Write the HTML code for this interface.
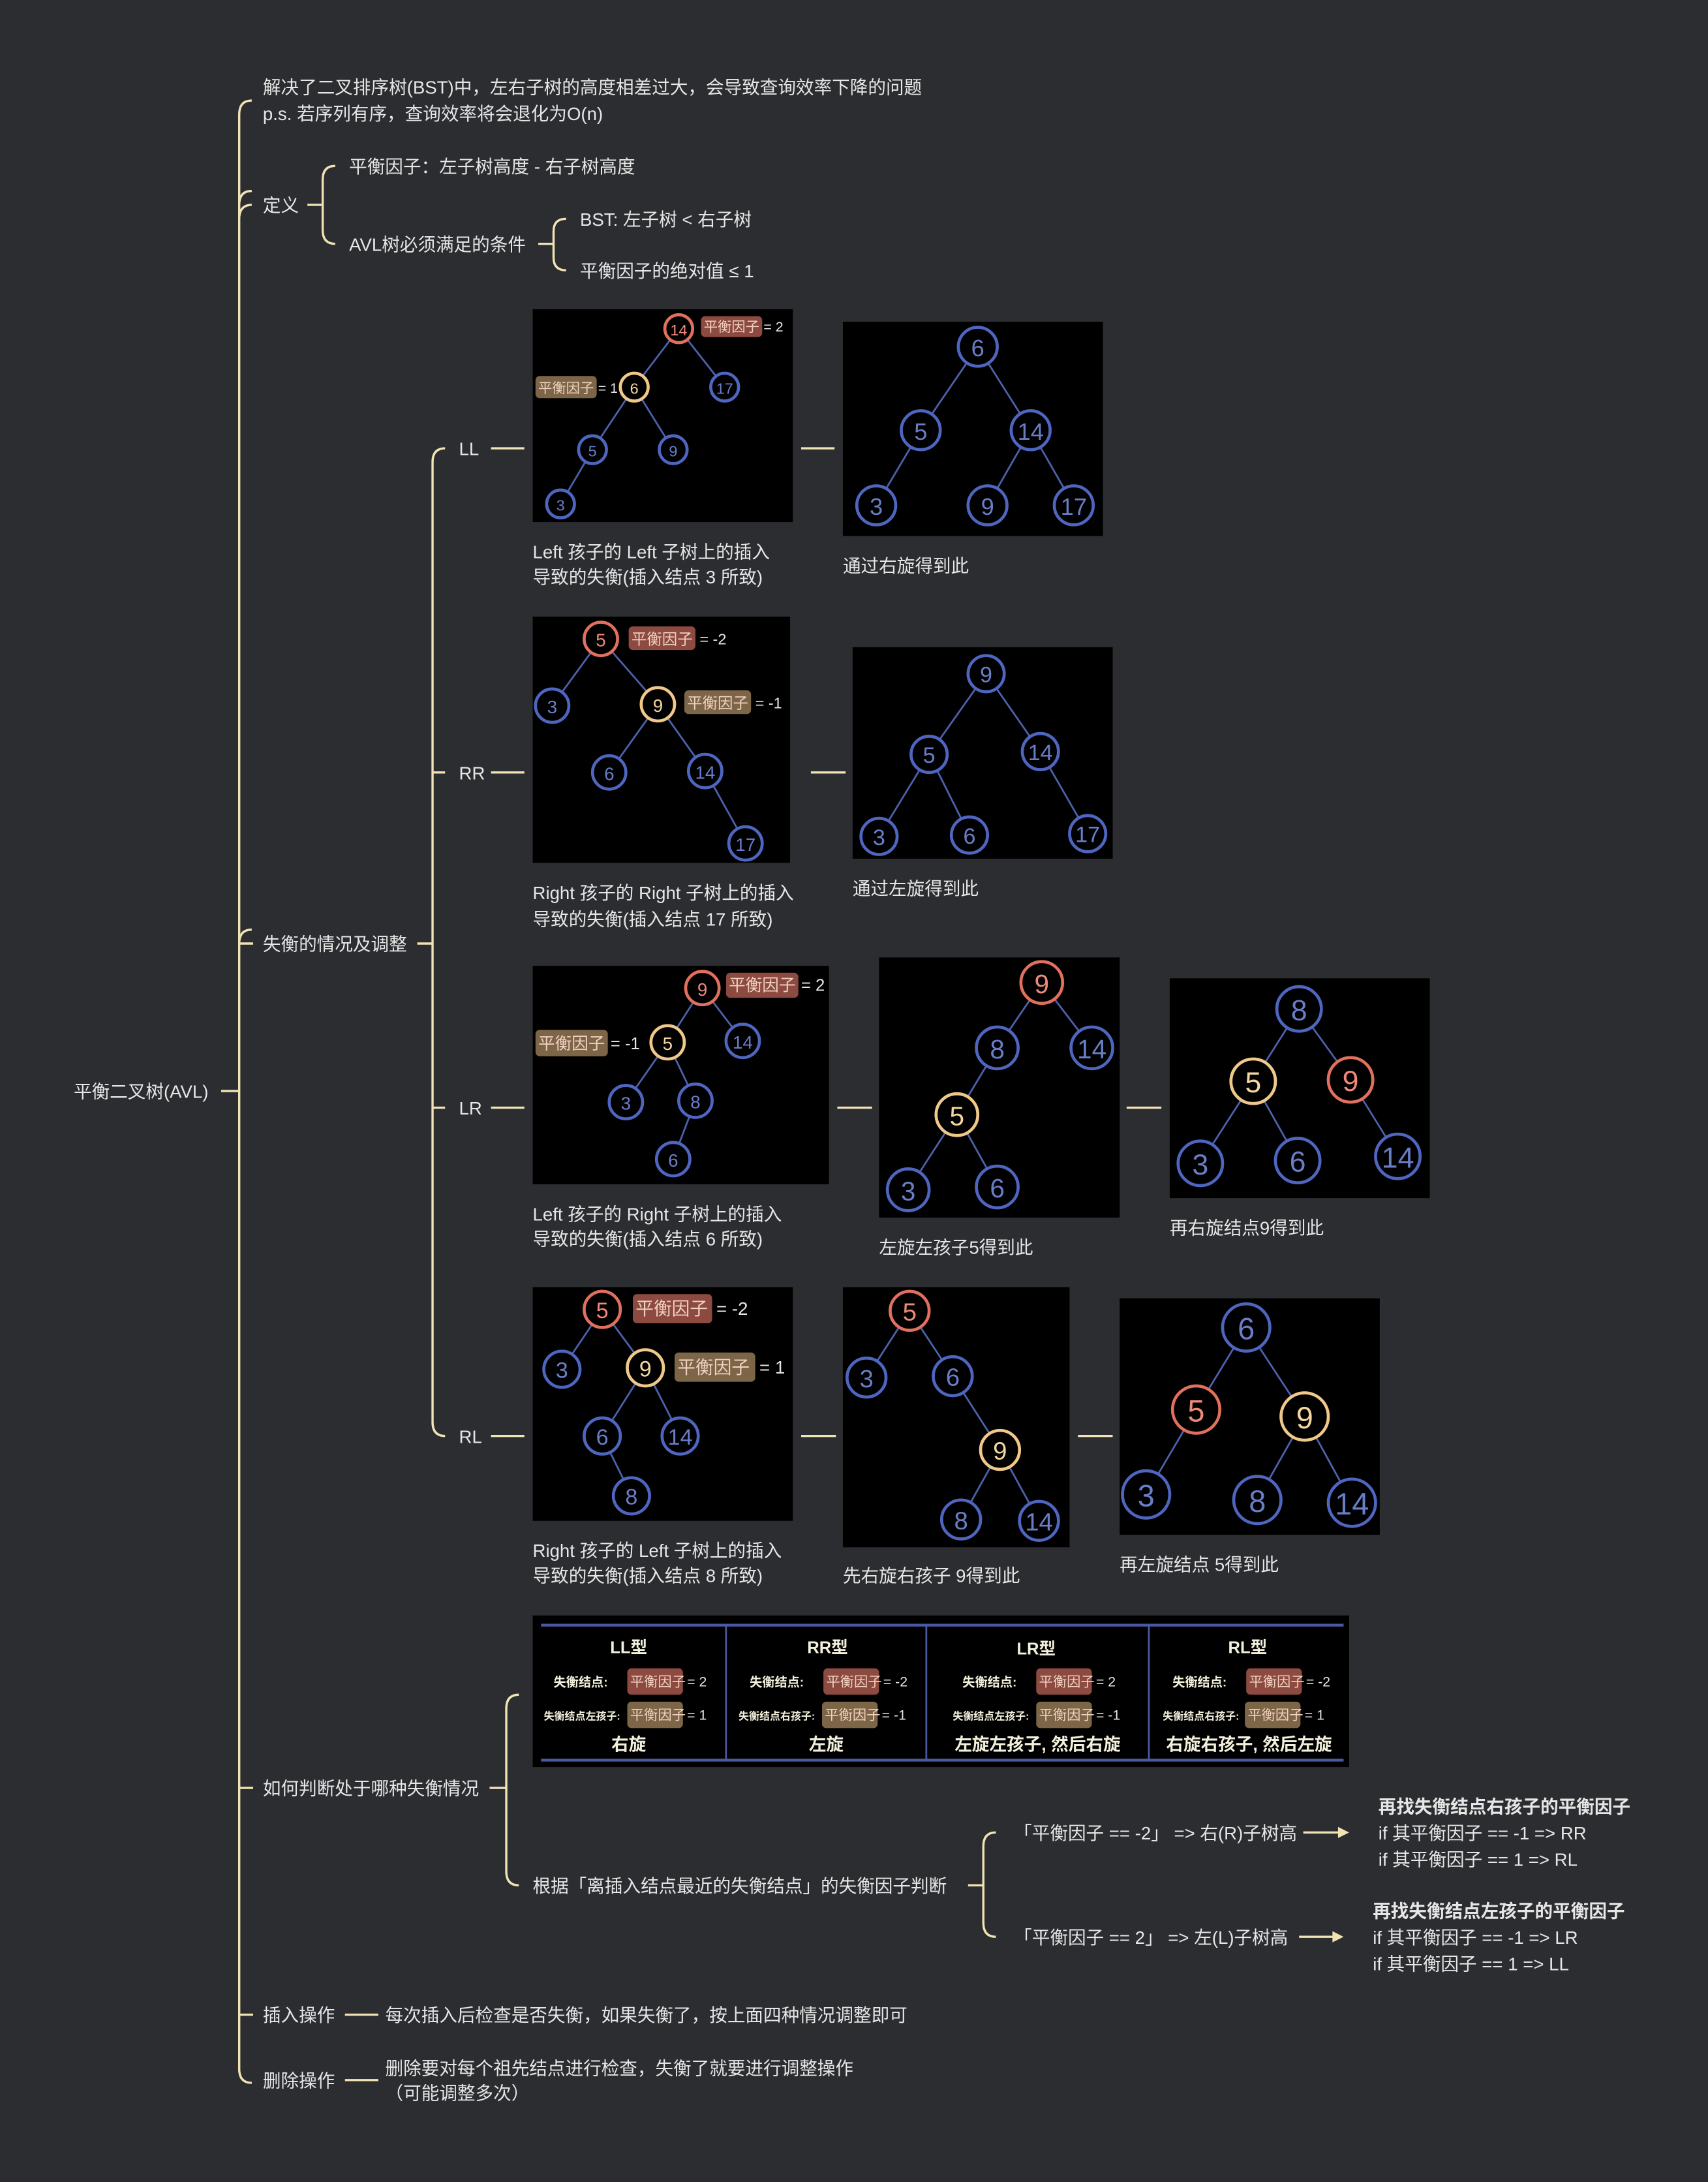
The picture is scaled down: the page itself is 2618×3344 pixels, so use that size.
<!DOCTYPE html>
<html><head><meta charset="utf-8"><style>
html,body{margin:0;padding:0;background:#2c2d30;}
svg{display:block}
text{font-family:"Liberation Sans","Noto Sans CJK SC",sans-serif;}
.t{fill:#e6e6e6;font-size:12.95px;}
.ln{stroke:#f0e3b4;stroke-width:1.6;fill:none;}
.img{fill:#000;}
.e{stroke:#4d62ad;stroke-width:1.3;}
.b{fill:#000;stroke:#4f66c0;stroke-width:2.2;}
.r{fill:#000;stroke:#e2705e;stroke-width:2.2;}
.o{fill:#000;stroke:#f0c88a;stroke-width:2.2;}
.nb{fill:#6a7ec8;text-anchor:middle;dominant-baseline:central;}
.nr{fill:#ee8a78;text-anchor:middle;dominant-baseline:central;}
.no{fill:#f4d6a0;text-anchor:middle;dominant-baseline:central;}
.lr{fill:#8c4a40;}
.lo{fill:#7d6548;}
.lt{fill:#f0d0c0;}
.eq{fill:#e6e6e6;}
.tw{fill:#f2f0dc;font-weight:bold;text-anchor:middle;}
</style></head><body>
<svg width="2618" height="3344" viewBox="0 0 1228 1568" xmlns="http://www.w3.org/2000/svg">
<rect width="1228" height="1568" fill="#2c2d30"/>

<text class="t" x="53" y="789">平衡二叉树(AVL)</text>
<path class="ln" d="M159 784 H172 M181 72 Q172 72 172 82 V1487 Q172 1497 181 1497 M172 147 Q172 137 181 137 M181 147 Q172 147 172 157"/>
<path class="ln" d="M172 678 Q172 668 181 668 M172 678 H182 M172 1285 H182 M172 1448 H182"/>

<text class="t" x="189" y="67">解决了二叉排序树(BST)中，左右子树的高度相差过大，会导致查询效率下降的问题</text>
<text class="t" x="189" y="86">p.s. 若序列有序，查询效率将会退化为O(n)</text>

<text class="t" x="189" y="152">定义</text>
<path class="ln" d="M221 147 H232 M241 119 Q232 119 232 129 V165 Q232 175 241 175"/>
<text class="t" x="251" y="124">平衡因子：左子树高度 - 右子树高度</text>
<text class="t" x="251" y="180">AVL树必须满足的条件</text>
<path class="ln" d="M387 175 H398 M407 157 Q398 157 398 166 V185 Q398 194 407 194"/>
<text class="t" x="417" y="162">BST: 左子树 &lt; 右子树</text>
<text class="t" x="417" y="199">平衡因子的绝对值 ≤ 1</text>

<text class="t" x="189" y="683">失衡的情况及调整</text>
<path class="ln" d="M300 678 H311 M320 322 Q311 322 311 332 V1022 Q311 1032 320 1032 M311 555 H320 M311 796 H320"/>
<text class="t" x="330" y="327">LL</text><path class="ln" d="M353 322 H377"/>
<text class="t" x="330" y="560">RR</text><path class="ln" d="M353 555 H377"/>
<text class="t" x="330" y="801">LR</text><path class="ln" d="M353 796 H377"/>
<text class="t" x="330" y="1037">RL</text><path class="ln" d="M353 1032 H377"/>

<rect class="img" x="383" y="222" width="187" height="153"/>
<g class="e"><line x1="488" y1="236" x2="456" y2="278"/><line x1="488" y1="236" x2="521" y2="278"/><line x1="456" y1="278" x2="426" y2="323"/><line x1="456" y1="278" x2="484" y2="323"/><line x1="426" y1="323" x2="403" y2="362"/></g>
<g font-size="11"><circle class="r" cx="488" cy="236" r="10"/><text class="nr" x="488" y="237">14</text>
<circle class="o" cx="456" cy="278" r="10"/><text class="no" x="456" y="279">6</text>
<circle class="b" cx="521" cy="278" r="10"/><text class="nb" x="521" y="279">17</text>
<circle class="b" cx="426" cy="323" r="10"/><text class="nb" x="426" y="324">5</text>
<circle class="b" cx="484" cy="323" r="10"/><text class="nb" x="484" y="324">9</text>
<circle class="b" cx="403" cy="362" r="10"/><text class="nb" x="403" y="363">3</text></g>
<rect class="lr" x="504" y="227" width="44" height="15" rx="3"/><text class="lt" x="506" y="238" font-size="10">平衡因子</text><text class="eq" x="549" y="238" font-size="10">= 2</text>
<rect class="lo" x="385" y="270" width="44" height="16" rx="3"/><text class="lt" x="387" y="282" font-size="10">平衡因子</text><text class="eq" x="430" y="282" font-size="10">= 1</text>
<text class="t" x="383" y="401">Left 孩子的 Left 子树上的插入</text>
<text class="t" x="383" y="419">导致的失衡(插入结点 3 所致)</text>
<path class="ln" d="M576 322 H600"/>
<rect class="img" x="606" y="231" width="187" height="154"/>
<g class="e"><line x1="703" y1="249" x2="662" y2="309"/><line x1="703" y1="249" x2="741" y2="309"/><line x1="662" y1="309" x2="630" y2="363"/><line x1="741" y1="309" x2="710" y2="363"/><line x1="741" y1="309" x2="772" y2="363"/></g>
<g font-size="17"><circle class="b" cx="703" cy="249" r="14"/><text class="nb" x="703" y="250">6</text>
<circle class="b" cx="662" cy="309" r="14"/><text class="nb" x="662" y="310">5</text>
<circle class="b" cx="741" cy="309" r="14"/><text class="nb" x="741" y="310">14</text>
<circle class="b" cx="630" cy="363" r="14"/><text class="nb" x="630" y="364">3</text>
<circle class="b" cx="710" cy="363" r="14"/><text class="nb" x="710" y="364">9</text>
<circle class="b" cx="772" cy="363" r="14"/><text class="nb" x="772" y="364">17</text></g>
<text class="t" x="606" y="411">通过右旋得到此</text>

<rect class="img" x="383" y="443" width="185" height="177"/>
<g class="e"><line x1="432" y1="459" x2="397" y2="507"/><line x1="432" y1="459" x2="473" y2="506"/><line x1="473" y1="506" x2="438" y2="555"/><line x1="473" y1="506" x2="507" y2="554"/><line x1="507" y1="554" x2="536" y2="606"/></g>
<g font-size="13"><circle class="r" cx="432" cy="459" r="12"/><text class="nr" x="432" y="460">5</text>
<circle class="b" cx="397" cy="507" r="12"/><text class="nb" x="397" y="508">3</text>
<circle class="o" cx="473" cy="506" r="12"/><text class="no" x="473" y="507">9</text>
<circle class="b" cx="438" cy="555" r="12"/><text class="nb" x="438" y="556">6</text>
<circle class="b" cx="507" cy="554" r="12"/><text class="nb" x="507" y="555">14</text>
<circle class="b" cx="536" cy="606" r="12"/><text class="nb" x="536" y="607">17</text></g>
<rect class="lr" x="452" y="450" width="48" height="17" rx="3"/><text class="lt" x="454" y="463" font-size="11">平衡因子</text><text class="eq" x="503" y="463" font-size="11">= -2</text>
<rect class="lo" x="492" y="496" width="48" height="17" rx="3"/><text class="lt" x="494" y="509" font-size="11">平衡因子</text><text class="eq" x="543" y="509" font-size="11">= -1</text>
<text class="t" x="383" y="646">Right 孩子的 Right 子树上的插入</text>
<text class="t" x="383" y="665">导致的失衡(插入结点 17 所致)</text>
<path class="ln" d="M583 555 H608"/>
<rect class="img" x="613" y="465" width="187" height="152"/>
<g class="e"><line x1="709" y1="484" x2="668" y2="542"/><line x1="709" y1="484" x2="748" y2="540"/><line x1="668" y1="542" x2="632" y2="601"/><line x1="668" y1="542" x2="697" y2="600"/><line x1="748" y1="540" x2="782" y2="599"/></g>
<g font-size="16"><circle class="b" cx="709" cy="484" r="13"/><text class="nb" x="709" y="485">9</text>
<circle class="b" cx="668" cy="542" r="13"/><text class="nb" x="668" y="543">5</text>
<circle class="b" cx="748" cy="540" r="13"/><text class="nb" x="748" y="541">14</text>
<circle class="b" cx="632" cy="601" r="13"/><text class="nb" x="632" y="602">3</text>
<circle class="b" cx="697" cy="600" r="13"/><text class="nb" x="697" y="601">6</text>
<circle class="b" cx="782" cy="599" r="13"/><text class="nb" x="782" y="600">17</text></g>
<text class="t" x="613" y="643">通过左旋得到此</text>

<rect class="img" x="383" y="694" width="213" height="157"/>
<g class="e"><line x1="505" y1="710" x2="480" y2="749"/><line x1="505" y1="710" x2="534" y2="748"/><line x1="480" y1="749" x2="450" y2="792"/><line x1="480" y1="749" x2="500" y2="791"/><line x1="500" y1="791" x2="484" y2="833"/></g>
<g font-size="13"><circle class="r" cx="505" cy="710" r="12"/><text class="nr" x="505" y="711">9</text>
<circle class="o" cx="480" cy="749" r="12"/><text class="no" x="480" y="750">5</text>
<circle class="b" cx="534" cy="748" r="12"/><text class="nb" x="534" y="749">14</text>
<circle class="b" cx="450" cy="792" r="12"/><text class="nb" x="450" y="793">3</text>
<circle class="b" cx="500" cy="791" r="12"/><text class="nb" x="500" y="792">8</text>
<circle class="b" cx="484" cy="833" r="12"/><text class="nb" x="484" y="834">6</text></g>
<rect class="lr" x="522" y="699" width="52" height="18" rx="3"/><text class="lt" x="524" y="712" font-size="12">平衡因子</text><text class="eq" x="576" y="712" font-size="12">= 2</text>
<rect class="lo" x="385" y="740" width="52" height="19" rx="3"/><text class="lt" x="387" y="754" font-size="12">平衡因子</text><text class="eq" x="439" y="754" font-size="12">= -1</text>
<text class="t" x="383" y="877">Left 孩子的 Right 子树上的插入</text>
<text class="t" x="383" y="895">导致的失衡(插入结点 6 所致)</text>
<path class="ln" d="M602 796 H627"/>
<rect class="img" x="632" y="688" width="173" height="187"/>
<g class="e"><line x1="749" y1="706" x2="717" y2="753"/><line x1="749" y1="706" x2="785" y2="753"/><line x1="717" y1="753" x2="688" y2="801"/><line x1="688" y1="801" x2="653" y2="855"/><line x1="688" y1="801" x2="717" y2="853"/></g>
<g font-size="19"><circle class="r" cx="749" cy="706" r="15"/><text class="nr" x="749" y="707">9</text>
<circle class="b" cx="717" cy="753" r="15"/><text class="nb" x="717" y="754">8</text>
<circle class="b" cx="785" cy="753" r="15"/><text class="nb" x="785" y="754">14</text>
<circle class="o" cx="688" cy="801" r="15"/><text class="no" x="688" y="802">5</text>
<circle class="b" cx="653" cy="855" r="15"/><text class="nb" x="653" y="856">3</text>
<circle class="b" cx="717" cy="853" r="15"/><text class="nb" x="717" y="854">6</text></g>
<text class="t" x="632" y="901">左旋左孩子5得到此</text>
<path class="ln" d="M810 796 H835"/>
<rect class="img" x="841" y="703" width="187" height="158"/>
<g class="e"><line x1="934" y1="725" x2="901" y2="777"/><line x1="934" y1="725" x2="971" y2="776"/><line x1="901" y1="777" x2="863" y2="836"/><line x1="901" y1="777" x2="933" y2="834"/><line x1="971" y1="776" x2="1005" y2="831"/></g>
<g font-size="21"><circle class="b" cx="934" cy="725" r="16"/><text class="nb" x="934" y="726">8</text>
<circle class="o" cx="901" cy="777" r="16"/><text class="no" x="901" y="778">5</text>
<circle class="r" cx="971" cy="776" r="16"/><text class="nr" x="971" y="777">9</text>
<circle class="b" cx="863" cy="836" r="16"/><text class="nb" x="863" y="837">3</text>
<circle class="b" cx="933" cy="834" r="16"/><text class="nb" x="933" y="835">6</text>
<circle class="b" cx="1005" cy="831" r="16"/><text class="nb" x="1005" y="832">14</text></g>
<text class="t" x="841" y="887">再右旋结点9得到此</text>

<rect class="img" x="383" y="925" width="187" height="168"/>
<g class="e"><line x1="433" y1="941" x2="404" y2="984"/><line x1="433" y1="941" x2="464" y2="983"/><line x1="464" y1="983" x2="433" y2="1032"/><line x1="464" y1="983" x2="489" y2="1032"/><line x1="433" y1="1032" x2="454" y2="1075"/></g>
<g font-size="16"><circle class="r" cx="433" cy="941" r="13"/><text class="nr" x="433" y="942">5</text>
<circle class="b" cx="404" cy="984" r="13"/><text class="nb" x="404" y="985">3</text>
<circle class="o" cx="464" cy="983" r="13"/><text class="no" x="464" y="984">9</text>
<circle class="b" cx="433" cy="1032" r="13"/><text class="nb" x="433" y="1033">6</text>
<circle class="b" cx="489" cy="1032" r="13"/><text class="nb" x="489" y="1033">14</text>
<circle class="b" cx="454" cy="1075" r="13"/><text class="nb" x="454" y="1076">8</text></g>
<rect class="lr" x="455" y="930" width="57" height="21" rx="3"/><text class="lt" x="457" y="945" font-size="13">平衡因子</text><text class="eq" x="515" y="945" font-size="13">= -2</text>
<rect class="lo" x="485" y="972" width="58" height="21" rx="3"/><text class="lt" x="487" y="987" font-size="13">平衡因子</text><text class="eq" x="546" y="987" font-size="13">= 1</text>
<text class="t" x="383" y="1119">Right 孩子的 Left 子树上的插入</text>
<text class="t" x="383" y="1137">导致的失衡(插入结点 8 所致)</text>
<path class="ln" d="M576 1032 H601"/>
<rect class="img" x="606" y="925" width="163" height="187"/>
<g class="e"><line x1="654" y1="942" x2="623" y2="990"/><line x1="654" y1="942" x2="685" y2="989"/><line x1="685" y1="989" x2="719" y2="1042"/><line x1="719" y1="1042" x2="691" y2="1092"/><line x1="719" y1="1042" x2="747" y2="1093"/></g>
<g font-size="18"><circle class="r" cx="654" cy="942" r="14"/><text class="nr" x="654" y="943">5</text>
<circle class="b" cx="623" cy="990" r="14"/><text class="nb" x="623" y="991">3</text>
<circle class="b" cx="685" cy="989" r="14"/><text class="nb" x="685" y="990">6</text>
<circle class="o" cx="719" cy="1042" r="14"/><text class="no" x="719" y="1043">9</text>
<circle class="b" cx="691" cy="1092" r="14"/><text class="nb" x="691" y="1093">8</text>
<circle class="b" cx="747" cy="1093" r="14"/><text class="nb" x="747" y="1094">14</text></g>
<text class="t" x="606" y="1137">先右旋右孩子 9得到此</text>
<path class="ln" d="M775 1032 H800"/>
<rect class="img" x="805" y="933" width="187" height="170"/>
<g class="e"><line x1="896" y1="954" x2="860" y2="1013"/><line x1="896" y1="954" x2="938" y2="1018"/><line x1="860" y1="1013" x2="824" y2="1074"/><line x1="938" y1="1018" x2="904" y2="1078"/><line x1="938" y1="1018" x2="972" y2="1080"/></g>
<g font-size="22"><circle class="b" cx="896" cy="954" r="17"/><text class="nb" x="896" y="955">6</text>
<circle class="r" cx="860" cy="1013" r="17"/><text class="nr" x="860" y="1014">5</text>
<circle class="o" cx="938" cy="1018" r="17"/><text class="no" x="938" y="1019">9</text>
<circle class="b" cx="824" cy="1074" r="17"/><text class="nb" x="824" y="1075">3</text>
<circle class="b" cx="904" cy="1078" r="17"/><text class="nb" x="904" y="1079">8</text>
<circle class="b" cx="972" cy="1080" r="17"/><text class="nb" x="972" y="1081">14</text></g>
<text class="t" x="805" y="1129">再左旋结点 5得到此</text>

<text class="t" x="189" y="1290">如何判断处于哪种失衡情况</text>
<path class="ln" d="M352 1285 H364 M373 1218 Q364 1218 364 1228 V1345 Q364 1355 373 1355"/>
<rect class="img" x="383" y="1161" width="587" height="109"/>
<g stroke="#4a5aa0" stroke-width="2"><line x1="389" y1="1168" x2="966" y2="1168"/><line x1="389" y1="1265" x2="966" y2="1265"/></g>
<g stroke="#4a5aa0" stroke-width="1.3"><line x1="522" y1="1168" x2="522" y2="1265"/><line x1="666" y1="1168" x2="666" y2="1265"/><line x1="826" y1="1168" x2="826" y2="1265"/></g>
<g font-size="12"><text class="tw" x="452" y="1188">LL型</text><text class="tw" x="595" y="1188">RR型</text><text class="tw" x="745" y="1189">LR型</text><text class="tw" x="897" y="1188">RL型</text></g>
<g font-size="9" fill="#f2f0dc" font-weight="bold">
<text x="398" y="1212">失衡结点:</text><text x="539" y="1212">失衡结点:</text><text x="692" y="1212">失衡结点:</text><text x="843" y="1212">失衡结点:</text>
<text x="391" y="1236" font-size="7.5">失衡结点左孩子:</text><text x="531" y="1236" font-size="7.5">失衡结点右孩子:</text><text x="685" y="1236" font-size="7.5">失衡结点左孩子:</text><text x="836" y="1236" font-size="7.5">失衡结点右孩子:</text>
</g>
<g font-size="10">
<rect class="lr" x="451" y="1199" width="40" height="19" rx="3"/><text class="lt" x="453" y="1212">平衡因子</text><text class="eq" x="494" y="1212">= 2</text>
<rect class="lr" x="592" y="1199" width="40" height="19" rx="3"/><text class="lt" x="594" y="1212">平衡因子</text><text class="eq" x="635" y="1212">= -2</text>
<rect class="lr" x="745" y="1199" width="40" height="19" rx="3"/><text class="lt" x="747" y="1212">平衡因子</text><text class="eq" x="788" y="1212">= 2</text>
<rect class="lr" x="896" y="1199" width="40" height="19" rx="3"/><text class="lt" x="898" y="1212">平衡因子</text><text class="eq" x="939" y="1212">= -2</text>
<rect class="lo" x="451" y="1223" width="40" height="19" rx="3"/><text class="lt" x="453" y="1236">平衡因子</text><text class="eq" x="494" y="1236">= 1</text>
<rect class="lo" x="591" y="1223" width="40" height="19" rx="3"/><text class="lt" x="593" y="1236">平衡因子</text><text class="eq" x="634" y="1236">= -1</text>
<rect class="lo" x="745" y="1223" width="40" height="19" rx="3"/><text class="lt" x="747" y="1236">平衡因子</text><text class="eq" x="788" y="1236">= -1</text>
<rect class="lo" x="895" y="1223" width="40" height="19" rx="3"/><text class="lt" x="897" y="1236">平衡因子</text><text class="eq" x="938" y="1236">= 1</text>
</g>
<g font-size="12.5"><text class="tw" x="452" y="1258">右旋</text><text class="tw" x="594" y="1258">左旋</text><text class="tw" x="746" y="1258">左旋左孩子, 然后右旋</text><text class="tw" x="898" y="1258">右旋右孩子, 然后左旋</text></g>

<text class="t" x="383" y="1360">根据「离插入结点最近的失衡结点」的失衡因子判断</text>
<path class="ln" d="M696 1355 H707 M716 1317 Q707 1317 707 1327 V1382 Q707 1392 716 1392"/>
<text class="t" x="729" y="1322">「平衡因子 == -2」 =&gt;  右(R)子树高</text>
<path class="ln" d="M937 1317 H964"/><path d="M962 1313 L970 1317 L962 1321 Z" fill="#f0e3b4"/>
<text class="t" x="991" y="1303" font-weight="bold">再找失衡结点右孩子的平衡因子</text>
<text class="t" x="991" y="1322">if 其平衡因子 == -1  =&gt; RR</text>
<text class="t" x="991" y="1341">if 其平衡因子 == 1   =&gt; RL</text>
<text class="t" x="729" y="1397">「平衡因子 == 2」 =&gt;  左(L)子树高</text>
<path class="ln" d="M934 1392 H960"/><path d="M958 1388 L966 1392 L958 1396 Z" fill="#f0e3b4"/>
<text class="t" x="987" y="1378" font-weight="bold">再找失衡结点左孩子的平衡因子</text>
<text class="t" x="987" y="1397">if 其平衡因子 == -1  =&gt; LR</text>
<text class="t" x="987" y="1416">if 其平衡因子 == 1   =&gt; LL</text>

<text class="t" x="189" y="1453">插入操作</text>
<path class="ln" d="M248 1448 H272"/>
<text class="t" x="277" y="1453">每次插入后检查是否失衡，如果失衡了，按上面四种情况调整即可</text>
<text class="t" x="189" y="1500">删除操作</text>
<path class="ln" d="M248 1495 H272"/>
<text class="t" x="277" y="1491">删除要对每个祖先结点进行检查，失衡了就要进行调整操作</text>
<text class="t" x="277" y="1509">（可能调整多次）</text>
</svg>
</body></html>
